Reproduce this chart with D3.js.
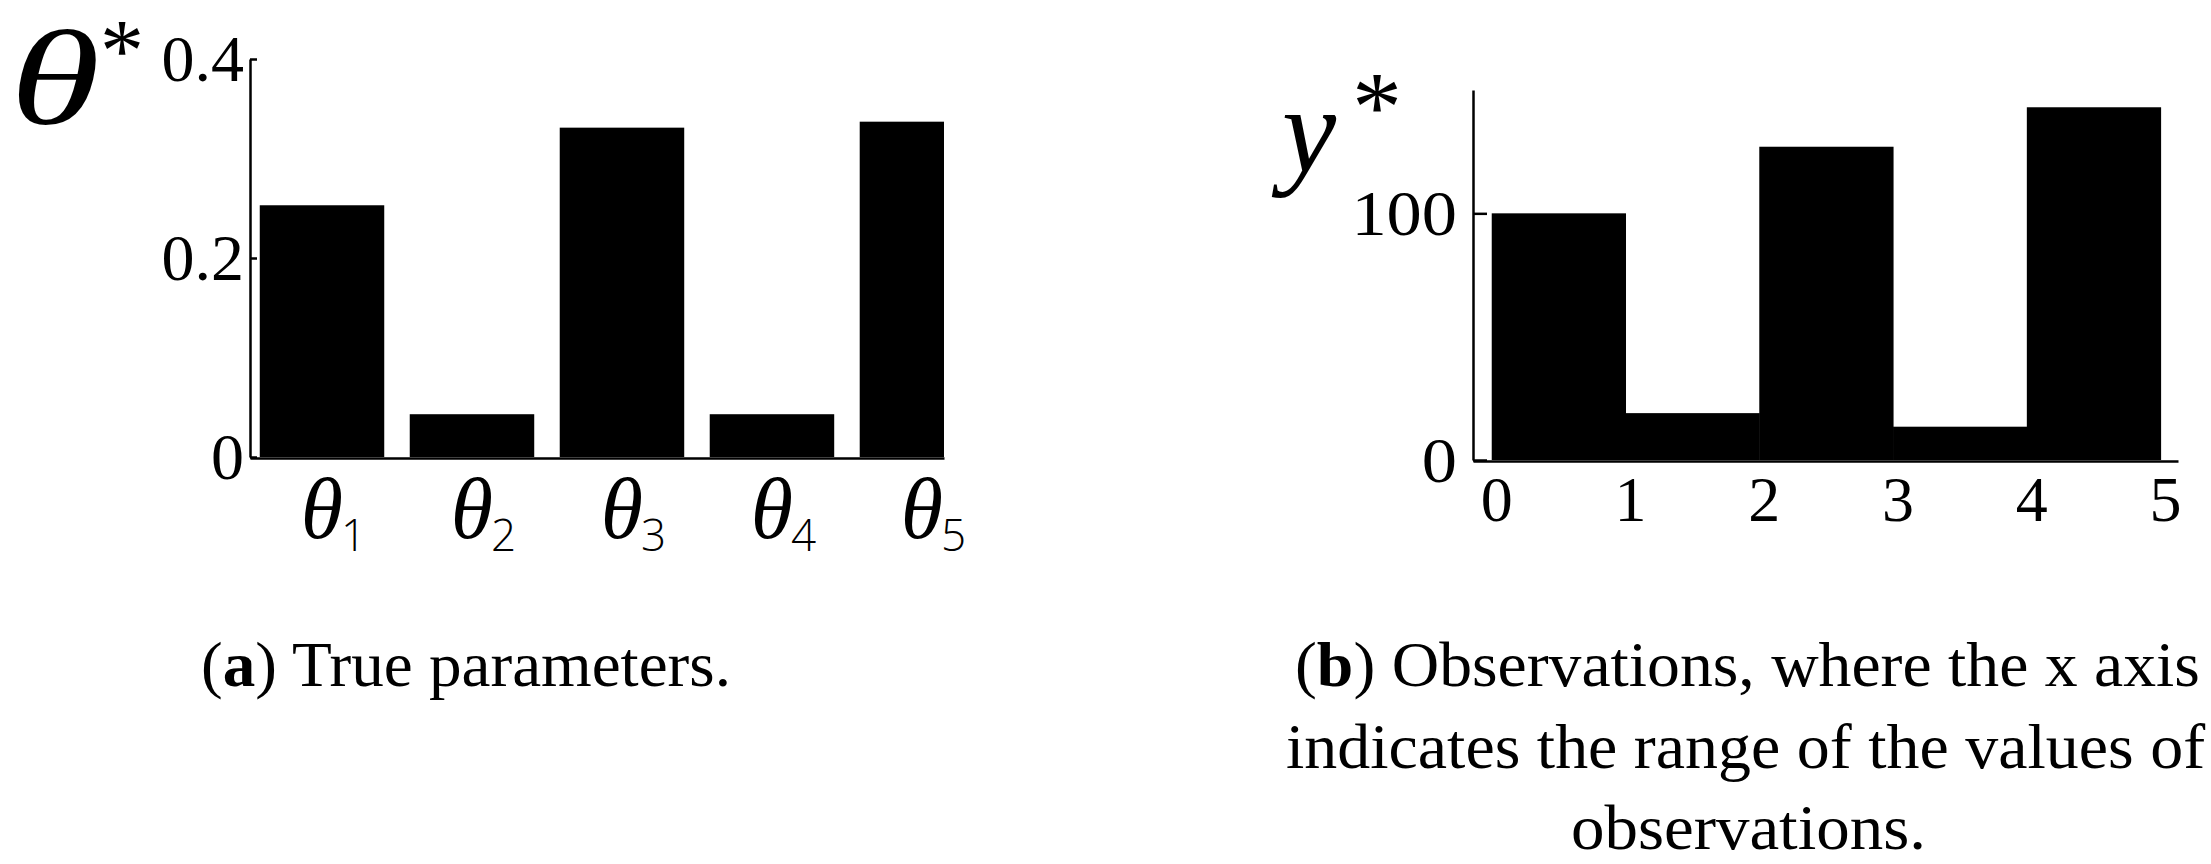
<!DOCTYPE html>
<html><head><meta charset="utf-8">
<script src="https://cdn.jsdelivr.net/npm/d3@7"></script>
<style>html,body{margin:0;padding:0;background:#fff;} svg{display:block;}</style>
</head><body>
<svg id="chart" width="2211" height="864"></svg>
<script>
// ---- data ----
const thetaCats = [1, 2, 3, 4, 5];
const thetaSubs = ["1", "2", "3", "4", "5"];
const thetaVals = [0.253, 0.043, 0.331, 0.043, 0.337];
const thetaTicks = [0, 0.2, 0.4];
const thetaTickLabels = ["0", "0.2", "0.4"];

const binEdges = [0, 1, 2, 3, 4, 5];
const obsVals = [100, 19, 127, 13.5, 143];
const obsYTicks = [0, 100];
const obsXTicks = [0, 1, 2, 3, 4, 5];

const captionA = ["(", "a", ") True parameters."];
const captionB1 = ["(", "b", ") Observations, where the x axis"];
const captionB2 = "indicates the range of the values of";
const captionB3 = "observations.";

const svg = d3.select("#chart");
const serif = "'Liberation Serif', 'Times New Roman', serif";

function stretchX(sel, x0, k) {
  sel.attr("transform", `translate(${x0},0) scale(${k},1) translate(${-x0},0)`);
}
function fitWidth(sel, x0, target) {
  const w = sel.node().getBBox().width;
  stretchX(sel, x0, target / w);
}

// ---------- panel (a) ----------
const xa = d3.scaleLinear().domain([0.52, 5.147]).range([250, 944]);
const ya = d3.scaleLinear().domain([0, 0.4]).range([457, 59]);
const barW = 0.83;

svg.append("clipPath").attr("id", "clipA")
  .append("rect").attr("x", xa.range()[0]).attr("y", 0)
  .attr("width", xa.range()[1] - xa.range()[0]).attr("height", 864);

svg.append("g").attr("clip-path", "url(#clipA)")
  .selectAll("rect").data(thetaVals).join("rect")
  .attr("x", (d, i) => xa(thetaCats[i] - barW / 2))
  .attr("width", xa(barW) - xa(0))
  .attr("y", d => ya(d))
  .attr("height", d => ya(0) - ya(d))
  .attr("fill", "#000");

// y axis (a)
const gAy = svg.append("g").attr("transform", `translate(${xa.range()[0]},0)`)
  .call(d3.axisRight(ya).tickValues(thetaTicks).tickSize(7).tickSizeOuter(0).tickFormat(() => ""));
gAy.select(".domain").attr("stroke-width", 2.5);
gAy.selectAll(".tick line").attr("stroke-width", 2.5);
svg.append("g").selectAll("text").data(thetaTicks).join("text")
  .attr("x", xa.range()[0] - 6)
  .attr("y", d => ya(d) + 0.34 * 66)
  .attr("text-anchor", "end")
  .attr("font-family", serif).attr("font-size", 66)
  .text((d, i) => thetaTickLabels[i]);

// x axis (a)
const gAx = svg.append("g").attr("transform", `translate(0,${ya(0) + 1})`)
  .call(d3.axisBottom(xa).tickValues([]).tickSizeOuter(0));
gAx.select(".domain").attr("stroke-width", 2.5);

const thLab = svg.append("g").selectAll("g").data(thetaCats).join("g");
thLab.append("text")
  .attr("x", d => xa(d)).attr("y", 538)
  .attr("text-anchor", "middle")
  .attr("font-family", serif).attr("font-style", "italic").attr("font-size", 86)
  .attr("fill", "#000")
  .text("θ");
thLab.append("text")
  .attr("x", d => xa(d) + 19).attr("y", 551)
  .attr("font-family", "'Open Sans', sans-serif").attr("font-weight", 300).attr("font-size", 44)
  .attr("fill", "#000")
  .text((d, i) => thetaSubs[i]);

// title θ*
const tA = svg.append("text").attr("x", 10).attr("y", 124)
  .attr("font-family", serif).attr("font-style", "italic").attr("font-size", 136)
  .attr("fill", "#000").text("θ");
fitWidth(tA, 10, 90);
svg.append("text").attr("x", 100).attr("y", 80)
  .attr("font-family", serif).attr("font-size", 88).attr("fill", "#000").text("*");

// ---------- panel (b) ----------
const xb = d3.scaleLinear().domain([-0.14, 5.13]).range([1473, 2178]);
const yb = d3.scaleLinear().domain([0, 150]).range([460, 90]);

svg.append("g").selectAll("rect").data(obsVals).join("rect")
  .attr("x", (d, i) => xb(binEdges[i]))
  .attr("width", (d, i) => xb(binEdges[i + 1]) - xb(binEdges[i]) + 0.5)
  .attr("y", d => yb(d))
  .attr("height", d => yb(0) - yb(d))
  .attr("fill", "#000");

const gBy = svg.append("g").attr("transform", `translate(${xb.range()[0]},0)`)
  .call(d3.axisRight(yb).tickValues(obsYTicks).tickSize(14).tickSizeOuter(0).tickFormat(() => ""));
gBy.select(".domain").attr("stroke-width", 2.5);
gBy.selectAll(".tick line").attr("stroke-width", 2.5);
svg.append("g").selectAll("text").data(obsYTicks).join("text")
  .attr("x", xb.range()[0] - 16)
  .attr("y", d => yb(d) + 0.34 * 64)
  .attr("text-anchor", "end")
  .attr("font-family", serif).attr("font-size", 64)
  .text(d => d)
  .each(function() { stretchX(d3.select(this), xb.range()[0] - 16, 1.1); });

const gBx = svg.append("g").attr("transform", `translate(0,${yb(0) + 1})`)
  .call(d3.axisBottom(xb).tickValues([]).tickSizeOuter(0));
gBx.select(".domain").attr("stroke-width", 2.5);
svg.append("g").selectAll("text").data(obsXTicks).join("text")
  .attr("x", d => xb(d) + 5)
  .attr("y", 521)
  .attr("text-anchor", "middle")
  .attr("font-family", serif).attr("font-size", 64)
  .text(d => d);

// title y*
svg.append("text").attr("x", 1282).attr("y", 172)
  .attr("font-family", serif).attr("font-style", "italic").attr("font-size", 122)
  .attr("fill", "#000").text("y");
svg.append("text").attr("x", 1352).attr("y", 140)
  .attr("font-family", serif).attr("font-size", 100).attr("fill", "#000").text("*");

// ---------- captions ----------
function caption(parts, x0, y, width) {
  const t = svg.append("text").attr("x", x0).attr("y", y)
    .attr("font-family", serif).attr("font-size", 64).attr("fill", "#000");
  if (Array.isArray(parts)) {
    parts.forEach((p, i) => t.append("tspan").attr("font-weight", i === 1 ? "bold" : "normal").text(p));
  } else t.text(parts);
  fitWidth(t, x0, width);
}
caption(captionA, 201, 686, 530);
caption(captionB1, 1295, 686, 905);
caption(captionB2, 1286, 768, 920);
caption(captionB3, 1571, 849, 355);
</script>
</body></html>
